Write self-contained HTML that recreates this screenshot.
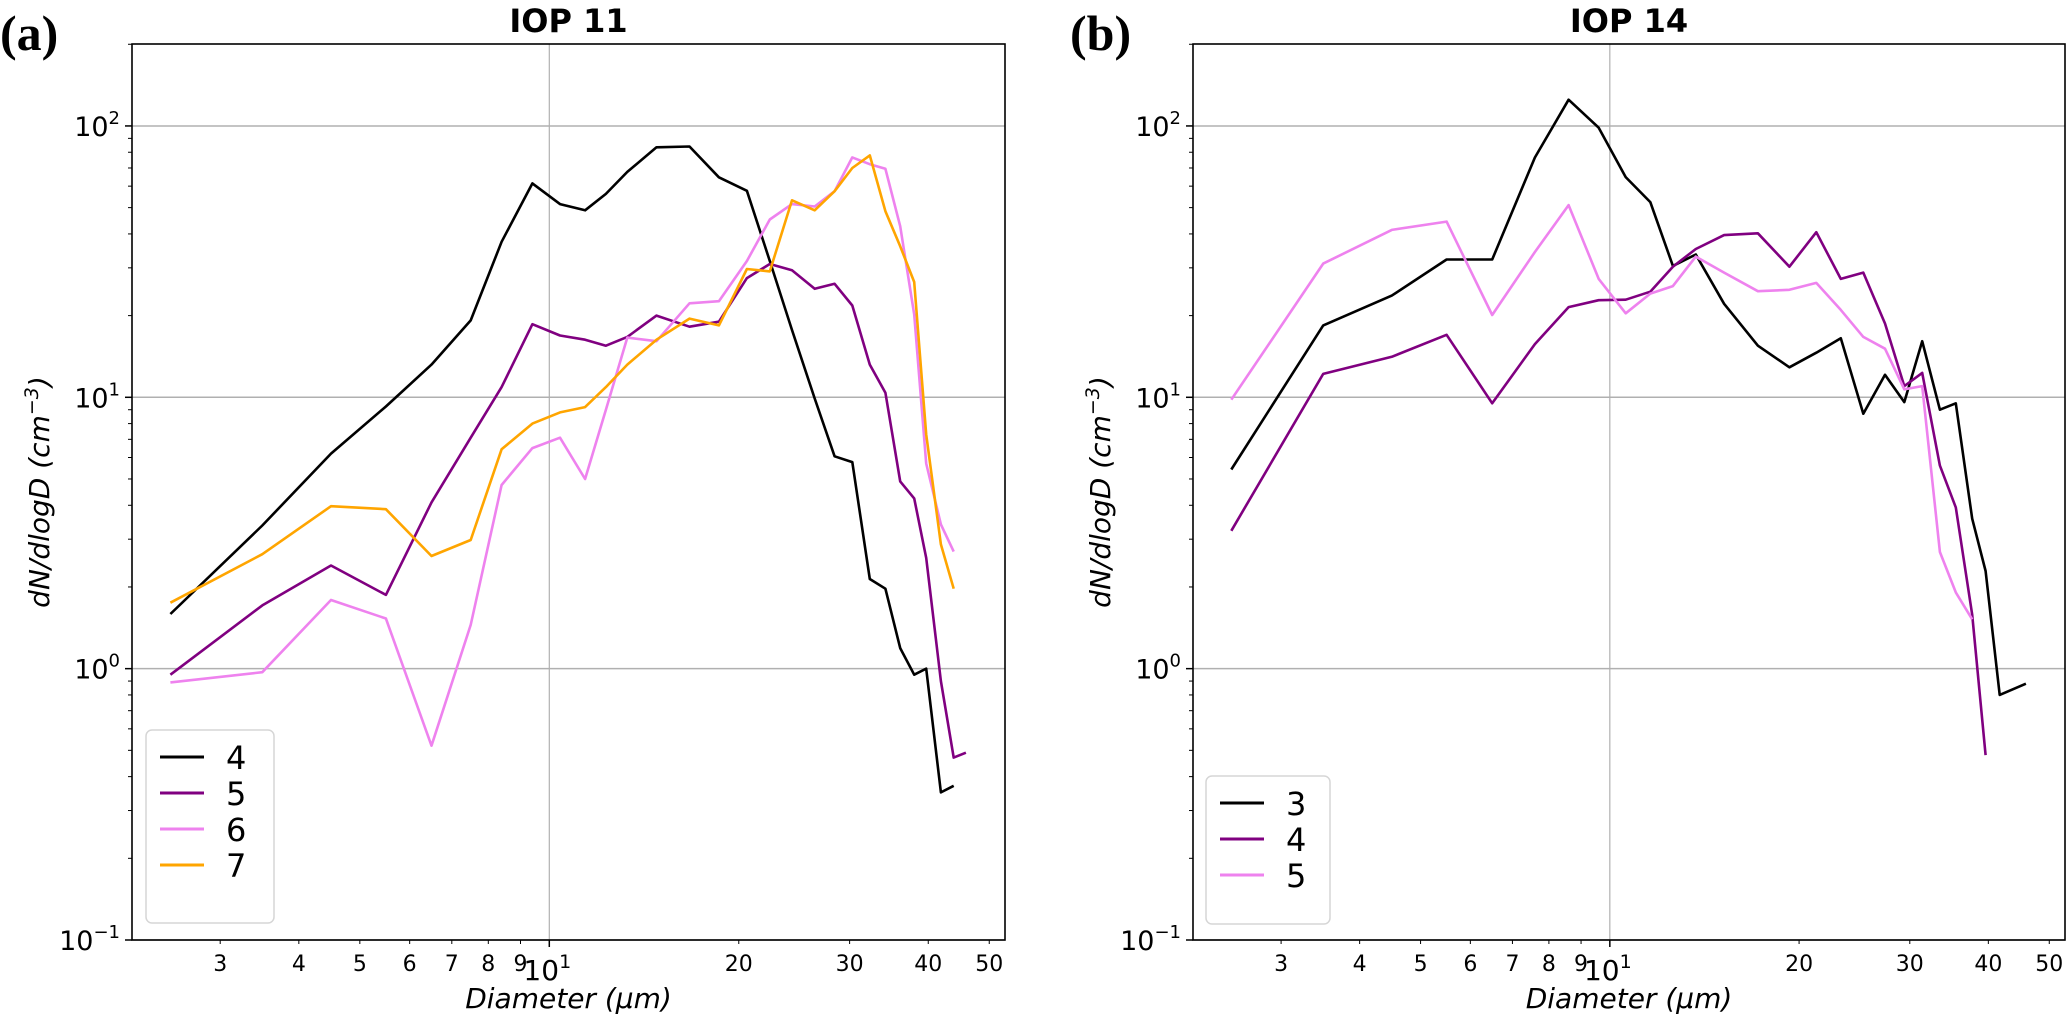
<!DOCTYPE html>
<html><head><meta charset="utf-8">
<style>
html,body{margin:0;padding:0;background:#fff;}
svg{display:block;font-family:"DejaVu Sans","Liberation Sans",sans-serif;}
</style></head>
<body>
<svg id="fig" width="2067" height="1023" viewBox="0 0 2067 1023" xmlns="http://www.w3.org/2000/svg">
<text x="0" y="50" font-family="Liberation Serif, serif" font-weight="bold" font-size="50">(a)</text>
<text x="1070" y="50" font-family="Liberation Serif, serif" font-weight="bold" font-size="50">(b)</text>
</svg>
<script>
const xA = [2.5,3.5,4.5,5.5,6.5,7.5,8.4,9.4,10.4,11.4,12.3,13.3,14.8,16.7,18.6,20.6,22.4,24.3,26.4,28.4,30.3,32.3,34.2,36.1,38.0,39.7,41.9,43.9,45.9];
const a4 = [1.59,3.37,6.2,9.25,13.2,19.2,37.4,61.4,51.5,48.9,56.2,67.7,83.4,84,64.7,57.7,31.8,17.7,9.9,6.06,5.77,2.14,1.97,1.19,0.95,1.0,0.35,0.37,null];
const a5 = [0.95,1.71,2.40,1.87,4.10,7.1,10.9,18.6,16.9,16.3,15.5,16.7,20.0,18.2,19.0,27.5,31.0,29.4,25.1,26.2,21.8,13.2,10.4,4.9,4.24,2.56,0.9,0.47,0.49];
const a6 = [0.89,0.97,1.79,1.53,0.52,1.45,4.75,6.5,7.1,5.0,9.0,16.6,16.1,22.2,22.6,31.8,45.2,51.5,50.5,57.5,76.6,72.3,69.5,42.7,20.2,5.7,3.4,2.7,null];
const a7 = [1.75,2.64,3.97,3.87,2.60,2.98,6.43,8.0,8.8,9.2,10.9,13.2,16.3,19.5,18.4,29.7,29.1,53.2,48.9,57.5,70,77.9,48.5,36,26.6,7.3,2.87,1.97,null];
const xB = [2.5,3.5,4.5,5.5,6.5,7.6,8.6,9.6,10.6,11.6,12.6,13.7,15.2,17.2,19.3,21.3,23.3,25.3,27.4,29.4,31.4,33.5,35.5,37.7,39.6,41.7,45.9];
const b3 = [5.42,18.4,23.7,32.2,32.2,76.5,125,98.5,64.8,52.4,30.5,33.6,22.1,15.5,12.9,14.6,16.5,8.7,12.1,9.6,16.1,9.0,9.5,3.57,2.29,0.80,0.88];
const b4 = [3.22,12.2,14.1,17.0,9.5,15.7,21.5,22.8,22.9,24.5,30.3,35.2,39.6,40.2,30.3,40.6,27.3,28.8,18.7,11.0,12.3,5.6,3.93,1.58,0.48,null,null];
const b5 = [9.8,31.1,41.4,44.4,20.1,34.3,51.1,27.3,20.4,24.1,25.7,33.0,28.8,24.6,24.9,26.4,21.0,16.7,15.1,10.7,11.0,2.69,1.91,1.52,null,null,null];
const xMinorLabels = [3,4,5,6,7,8,9,20,30,40,50];
const yMajor = [-1,0,1,2];
const legendA = ["4","5","6","7"];
const legendB = ["3","4","5"];

const NS = "http://www.w3.org/2000/svg";
const svg = document.getElementById('fig');
const XMIN = 0.337, XMAX = 1.724, YMIN = -1, YMAX = 2.302;
function mk(tag, attrs, parent){const e=document.createElementNS(NS,tag);for(const k in attrs)e.setAttribute(k,attrs[k]);(parent||svg).appendChild(e);return e;}

function panel(L, R, T, B, title, xs, series, colors, labels, legBox, pname){
  const g = mk('g',{});
  
  
  const sx = v => L + (Math.log10(v)-XMIN)/(XMAX-XMIN)*(R-L);
  const sy = v => B - (Math.log10(v)-YMIN)/(YMAX-YMIN)*(B-T);
  const gx = mk('line',{x1:sx(10),x2:sx(10),y1:T,y2:B,stroke:'#b0b0b0','stroke-width':1.2},g);
  
  
  yMajor.forEach(p=>{
    const y=sy(Math.pow(10,p));
    const l=mk('line',{x1:L,x2:R,y1:y,y2:y,stroke:'#b0b0b0','stroke-width':1.5},g);
    
    
    mk('line',{x1:L-7,x2:L,y1:y,y2:y,stroke:'#000','stroke-width':1.5},g);
    const t=mk('text',{x:L-12,y:y+10,'text-anchor':'end','font-size':27},g);
    
    
    t.textContent='10';
    const s=mk('tspan',{dy:-12,'font-size':18},t); s.textContent = p<0 ? '\u22121' : String(p);
    for(let k=2;k<=9 && p<2;k++){const yy=sy(k*Math.pow(10,p));mk('line',{x1:L-4,x2:L,y1:yy,y2:yy,stroke:'#000','stroke-width':1},g);}
  });
  mk('line',{x1:L-4,x2:L,y1:sy(200),y2:sy(200),stroke:'#000','stroke-width':1},g);
  mk('line',{x1:sx(10),x2:sx(10),y1:B,y2:B+7,stroke:'#000','stroke-width':1.5},g);
  const t10=mk('text',{x:sx(10)-2,y:B+40,'text-anchor':'middle','font-size':28},g);
  
  
  t10.textContent='10'; const s10=mk('tspan',{dy:-12,'font-size':19},t10); s10.textContent='1';
  xMinorLabels.forEach(v=>{
    const x=sx(v);
    mk('line',{x1:x,x2:x,y1:B,y2:B+4,stroke:'#000','stroke-width':1},g);
    const t=mk('text',{x:x,y:B+31,'text-anchor':'middle','font-size':22},g);
    
    
    t.textContent=String(v);
  });
  series.forEach((vals,i)=>{
    let d='';
    vals.forEach((v,j)=>{ if(v==null) return; d += (d?'L':'M') + sx(xs[j]).toFixed(1)+','+sy(v).toFixed(1); });
    const p=mk('path',{d:d,fill:'none',stroke:colors[i],'stroke-width':2.6,'stroke-linejoin':'round'},g);
    
    
  });
  const fr=mk('rect',{x:L,y:T,width:R-L,height:B-T,fill:'none',stroke:'#000','stroke-width':1.6},g);
  
  
  const tt=mk('text',{x:(L+R)/2,y:32,'text-anchor':'middle','font-size':32,'font-weight':'bold'},g);
  
  
  tt.textContent=title;
  const xl=mk('text',{x:(L+R)/2,y:1008,'text-anchor':'middle','font-size':28,'font-style':'italic'},g);
  
  
  xl.textContent='Diameter (\u03bcm)';
  const yl=mk('text',{x:0,y:0,'text-anchor':'middle','font-size':28,'font-style':'italic',transform:'translate('+(L-83)+','+((T+B)/2)+') rotate(-90)'},g);
  
  
  yl.textContent='dN/dlogD (cm';
  const ys=mk('tspan',{dy:-11,'font-size':19},yl); ys.textContent='\u22123';
  const ye=mk('tspan',{dy:11},yl); ye.textContent=')';
  const lg=mk('g',{},g);
  
  
  mk('rect',{x:legBox[0],y:legBox[1],width:legBox[2],height:legBox[3],rx:6,fill:'#fff','fill-opacity':0.85,stroke:'#d6d6d6','stroke-width':1.5},lg);
  labels.forEach((lab,i)=>{
    const y=legBox[1]+27+i*36;
    const e=mk('g',{},lg);
    
    
    mk('line',{x1:legBox[0]+14,x2:legBox[0]+58,y1:y,y2:y,stroke:colors[i],'stroke-width':3},e);
    const t=mk('text',{x:legBox[0]+80,y:y+12,'font-size':32},e); t.textContent=lab;
  });
}
panel(132,1005,44,940,'IOP 11',xA,[a4,a5,a6,a7],['#000000','#800080','#ee82ee','#ffa500'],legendA,[146,730,128,193],'panel-iop11');
panel(1193,2065,44,940,'IOP 14',xB,[b3,b4,b5],['#000000','#800080','#ee82ee'],legendB,[1206,776,124,148],'panel-iop14');
</script>
</body></html>
